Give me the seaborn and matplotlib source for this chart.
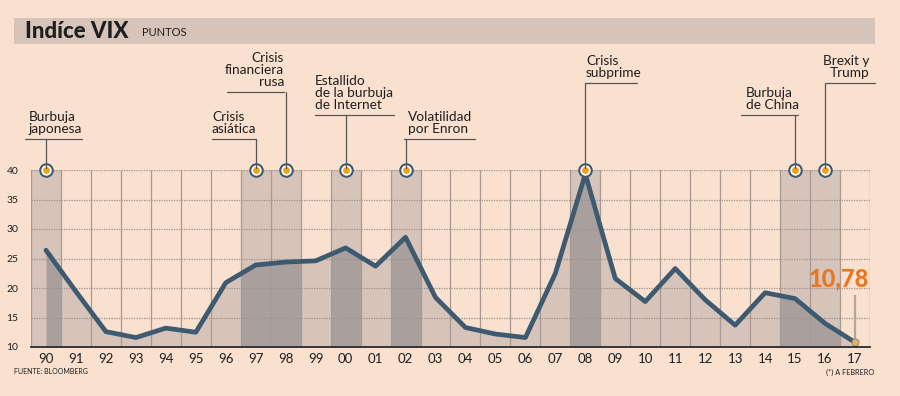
import numpy as np
import pandas as pd
import seaborn as sns
import matplotlib.pyplot as plt
import matplotlib.transforms as mtransforms
from matplotlib.patches import Rectangle
from matplotlib.lines import Line2D

#
# Data
#
years = ['90', '91', '92', '93', '94', '95', '96', '97', '98', '99',
         '00', '01', '02', '03', '04', '05', '06', '07', '08', '09',
         '10', '11', '12', '13', '14', '15', '16', '17']
vix = [26.4, 19.4, 12.6, 11.6, 13.2, 12.5, 20.9, 23.9, 24.4, 24.6,
       26.8, 23.7, 28.6, 18.4, 13.3, 12.2, 11.6, 22.5, 39.3, 21.6,
       17.7, 23.3, 18.0, 13.7, 19.2, 18.2, 14.0, 10.78]
event_years = ['90', '97', '98', '00', '02', '08', '15', '16']
event_labels = ['Burbuja\njaponesa', 'Crisis\nasiática', 'Crisis\nfinanciera\nrusa',
                'Estallido\nde la burbuja\nde Internet', 'Volatilidad\npor Enron',
                'Crisis\nsubprime', 'Burbuja\nde China', 'Brexit y\nTrump']
y_ticks = [10, 15, 20, 25, 30, 35, 40]
last_label = '10,78'

df = pd.DataFrame({'year': years, 'vix': vix})
df['pos'] = np.arange(len(df))

#
# Style
#
BG = '#F9E0CF'
BAR = '#D6C4BA'
FILL = '#D6C4BA'
OVER = '#A9A09E'
LINE = '#3D5A70'
GRID = '#A89A92'
ORANGE = '#E8771F'
TXT = '#1E1E1E'

sns.set_style('white')
plt.rcParams['font.family'] = ['Lato', 'DejaVu Sans']

fig = plt.figure(figsize=(9, 3.96), dpi=100, facecolor=BG)
ax = fig.add_axes([31/900, 1 - 347/396, (870 - 31)/900, (347 - 170)/396])
ax.set_facecolor(BG)
ax.set_xlim(-0.5, len(years) - 0.5)
ax.set_ylim(min(y_ticks), max(y_ticks))

# pixel transform (x right, y down from the top-left of the figure)
pix = mtransforms.Affine2D().scale(1/900, -1/396).translate(0, 1) + fig.transFigure
xpix = mtransforms.blended_transform_factory(ax.transData, pix)

# title bar
fig.patches.append(Rectangle((14, 18), 861, 26, transform=pix, facecolor=BAR,
                             edgecolor='none', zorder=0))
fig.text(25, 31, 'Indíce VIX', transform=pix, fontsize=16, fontweight='black',
         color=TXT, va='center', ha='left')
fig.text(142, 32, 'PUNTOS', transform=pix, fontsize=8, color=TXT,
         va='center', ha='left')

# highlighted years
ev_pos = [years.index(y) for y in event_years]
for p in ev_pos:
    ax.axvspan(p - 0.5, p + 0.5, color=BAR, zorder=0.5, lw=0)

# area under the line
ax.fill_between(df['pos'], min(y_ticks), df['vix'], color=FILL, zorder=1, lw=0)
for p in ev_pos:
    poly = ax.fill_between(df['pos'], min(y_ticks), df['vix'], color=OVER,
                           zorder=1.1, lw=0)
    poly.set_clip_path(Rectangle((p - 0.5, min(y_ticks)), 1,
                                 max(y_ticks) - min(y_ticks), transform=ax.transData))

# grid
for k in range(len(years) + 1):
    ax.axvline(k - 0.5, color=GRID, lw=0.9, zorder=2)
for t in y_ticks[1:]:
    ax.axhline(t, color='#A09088', lw=0.9, ls=(0, (1, 1)), zorder=2)

# line
sns.lineplot(data=df, x='pos', y='vix', color=LINE, lw=3.4, ax=ax, zorder=3)
ax.lines[-1].set_solid_joinstyle('round')

# end point
last = df.iloc[-1]
ax.plot([last['pos'], last['pos']], [last['vix'], 10 + (347 - 295)/5.9],
        color='#B4A49C', lw=1.6, zorder=2.5, solid_capstyle='butt')
ax.plot(last['pos'], last['vix'], 'o', ms=5, mfc='#EDB245', mec='#9A9088',
        mew=0.8, zorder=4, clip_on=False)
ax.text(last['pos'] + 0.45, 21.6, last_label, color=ORANGE, fontsize=17,
        fontweight='black', ha='right', va='center')

# event markers
top = max(y_ticks)
ax.plot(ev_pos, [top]*len(ev_pos), 'o', ms=10.5, mfc=LINE, mec='none',
        zorder=5, clip_on=False)
ax.plot(ev_pos, [top]*len(ev_pos), 'o', ms=7.5, mfc='white', mec='none',
        zorder=5.1, clip_on=False)
ax.plot(ev_pos, [top]*len(ev_pos), 'o', ms=5, mfc='#F0A21E', mec='none',
        zorder=5.2, clip_on=False)

# event labels: (text x, align, line y, line x0, line x1) in pixels
label_layout = [(29, 'left', 139, 25, 82),
                (212, 'left', 139, 212, 256),
                (284, 'right', 92, 227, 284),
                (315, 'left', 115, 315, 394),
                (408, 'left', 139, 404, 475),
                (586, 'left', 83, 585, 637),
                (746, 'left', 115, 741, 798),
                (869, 'right', 83, 826, 875)]
for p, lab, (tx, ha, ly, x0, x1) in zip(ev_pos, event_labels, label_layout):
    fig.add_artist(Line2D([x0, x1], [ly, ly], transform=pix, color='#555555', lw=0.9))
    fig.add_artist(Line2D([p, p], [ly, 168], transform=xpix, color='#555555', lw=0.9))
    fig.text(tx, ly - 4, lab, transform=pix, fontsize=9.8, color=TXT, ha=ha,
             va='bottom', linespacing=1.02, multialignment=ha)

# axes
ax.set_xticks(df['pos'], labels=years)
ax.set_yticks(y_ticks)
ax.tick_params(axis='x', length=0, pad=4, labelsize=9.5, labelcolor=TXT)
ax.tick_params(axis='y', length=0, pad=9, labelsize=7.5, labelcolor=TXT)
ax.set_xlabel('')
ax.set_ylabel('')
for s in ['top', 'right', 'left']:
    ax.spines[s].set_visible(False)
ax.spines['bottom'].set_color('#2A2A2A')
ax.spines['bottom'].set_linewidth(1.3)
ax.spines['bottom'].set_zorder(6)

# footer
fig.text(14, 371, 'FUENTE: BLOOMBERG', transform=pix, fontsize=5, color=TXT,
         va='center', ha='left')
fig.text(874, 372, '(*) A FEBRERO', transform=pix, fontsize=5.3, color=TXT,
         va='center', ha='right')

fig.savefig('out.png', dpi=100, facecolor=BG)
